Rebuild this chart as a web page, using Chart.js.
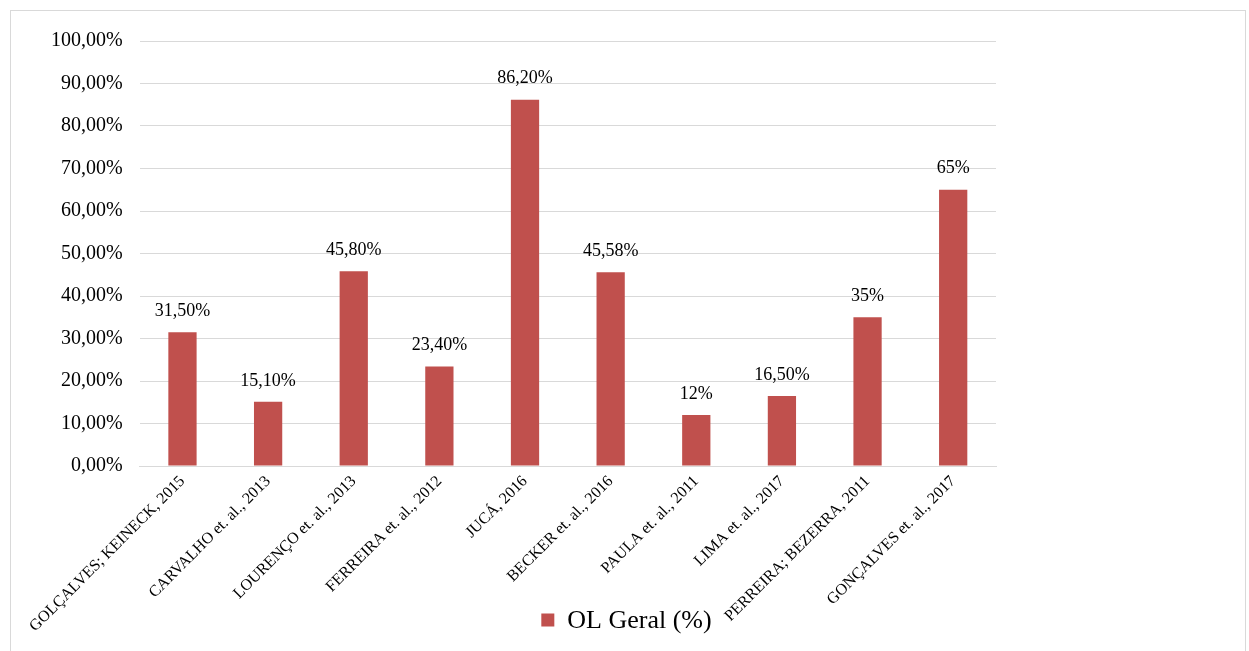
<!DOCTYPE html>
<html>
<head>
<meta charset="utf-8">
<script src="https://cdn.jsdelivr.net/npm/chart.js@4/dist/chart.umd.min.js"></script>
<style>
  html, body { margin: 0; padding: 0; background: #fff; overflow: hidden; }
  #frame { position: absolute; left: 10px; top: 10px; width: 1234px; height: 700px; border: 1px solid #d9d9d9; }
  #wrap { position: absolute; left: 0; top: 0; width: 1249px; height: 651px; }
</style>
</head>
<body>
<div id="frame"></div>
<div id="wrap"><canvas id="chart"></canvas></div>
<script>
// estudos e valores de OL Geral (%)
const estudos = [
    'GOLÇALVES; KEINECK, 2015',
    'CARVALHO et. al., 2013',
    'LOURENÇO et. al., 2013',
    'FERREIRA et. al., 2012',
    'JUCÁ, 2016',
    'BECKER et. al., 2016',
    'PAULA et. al., 2011',
    'LIMA et. al., 2017',
    'PERREIRA; BEZERRA, 2011',
    'GONÇALVES et. al., 2017'
];
const olGeral = [31.5, 15.1, 45.8, 23.4, 86.2, 45.58, 12, 16.5, 35, 65];
const rotulos = ['31,50%', '15,10%', '45,80%', '23,40%', '86,20%', '45,58%', '12%', '16,50%', '35%', '65%'];
const serieNome = 'OL Geral (%)';

const fonte = '"Liberation Serif", "Times New Roman", serif';
const corBarra = '#c0504d';

// rótulos de valor acima das barras
const valorLabels = {
    id: 'valorLabels',
    afterDatasetsDraw(chart) {
        const ctx = chart.ctx;
        const meta = chart.getDatasetMeta(0);
        ctx.save();
        ctx.font = '18px ' + fonte;
        ctx.fillStyle = '#000';
        ctx.textAlign = 'center';
        ctx.textBaseline = 'middle';
        meta.data.forEach((bar, i) => {
            ctx.fillText(rotulos[i], bar.x, bar.y - 21);
        });
        ctx.restore();
    }
};

// legenda desenhada à mão (sobreposta à área dos rótulos, como no Excel)
const legendaManual = {
    id: 'legendaManual',
    afterDraw(chart) {
        const ctx = chart.ctx;
        ctx.save();
        ctx.font = '26px ' + fonte;
        const tw = ctx.measureText(serieNome).width;
        const total = 13 + 13 + tw;
        const x0 = chart.width / 2 + 2 - total / 2;
        const yc = chart.height - 31;
        ctx.fillStyle = corBarra;
        ctx.fillRect(x0, yc - 6.5, 13, 13);
        ctx.fillStyle = '#000';
        ctx.textBaseline = 'middle';
        ctx.fillText(serieNome, x0 + 26, yc + 1);
        ctx.restore();
    }
};

new Chart(document.getElementById('chart'), {
    type: 'bar',
    data: {
        labels: estudos,
        datasets: [{
            label: serieNome,
            data: olGeral,
            backgroundColor: corBarra,
            borderWidth: 0,
            barPercentage: 0.33,
            categoryPercentage: 1
        }]
    },
    options: {
        responsive: true,
        maintainAspectRatio: false,
        animation: false,
        layout: { padding: { left: 34, right: 253, top: 41, bottom: 0 } },
        plugins: {
            legend: { display: false },
            tooltip: { enabled: false }
        },
        scales: {
            x: {
                grid: { display: false, drawTicks: false },
                border: { color: '#d9d9d9', width: 1 },
                ticks: {
                    font: { family: fonte, size: 16 },
                    color: '#000',
                    maxRotation: 45,
                    minRotation: 45,
                    autoSkip: false,
                    padding: 6
                },
                afterFit(scale) { scale.height = 185; }
            },
            y: {
                min: 0,
                max: 100,
                grid: { color: '#d9d9d9', drawTicks: false },
                border: { display: false },
                ticks: {
                    stepSize: 10,
                    padding: 17,
                    font: { family: fonte, size: 20 },
                    color: '#000',
                    callback: v => v.toFixed(2).replace('.', ',') + '%'
                }
            }
        }
    },
    plugins: [valorLabels, legendaManual]
});
</script>
</body>
</html>
